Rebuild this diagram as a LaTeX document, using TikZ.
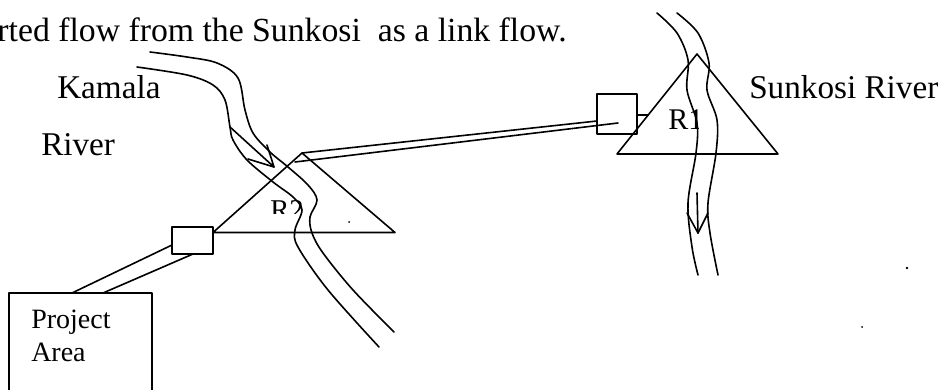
\documentclass[tikz,border=0pt]{standalone}
\usepackage{fontspec}
\setmainfont{Liberation Serif}
\tikzset{
  ink/.style={draw=black,line width=1.2pt,line join=round,line cap=round},
  bank/.style={ink,smooth,tension=0.55},
  boxnode/.style={ink,fill=white,inner sep=0pt,rectangle},
  big/.style={inner sep=0pt,font=\fontsize{24.9}{28}\selectfont,text=black},
  small/.style={inner sep=0pt,font=\fontsize{21}{24}\selectfont,text=black},
}
\begin{document}
\begin{tikzpicture}[x=0.75pt,y=-0.75pt]
\useasboundingbox (0,0) rectangle (942,389);
\clip (0,0) rectangle (942,389);
\fill[white] (0,0) rectangle (942,389);
% named points
\coordinate (t2a) at (302,153);
\coordinate (t2l) at (213,232.5);
\coordinate (t2r) at (395,232.5);
\coordinate (t1a) at (697,54);
\coordinate (t1l) at (617,154);
\coordinate (t1r) at (778,154);
\coordinate (l1s) at (302,153);
\coordinate (l1e) at (597,121);
\coordinate (l2s) at (295,162);
\coordinate (l2e) at (618,123);
\coordinate (p1s) at (172,245);
\coordinate (p1e) at (72,293);
\coordinate (p2s) at (193,254);
\coordinate (p2e) at (103,293);
% texts
\node[big,font=\fontsize{25.3}{28}\selectfont,anchor=base east] (title) at (567,41) {rted flow from the Sunkosi\ \ as a link flow.};
\node[big,anchor=base west] (kamala) at (57,98) {Kamala};
\node[big,anchor=base west] (river) at (41,155) {River};
\node[big,anchor=base west] (sunkosi) at (749,98) {Sunkosi River};
% boxes
\node[boxnode,minimum width=30.75pt,minimum height=20.25pt] (b2) at (192.5,240.5) {};
\node[boxnode,minimum width=30pt,minimum height=30pt] (b1) at (617,114) {};
\node[boxnode,minimum width=107.25pt,minimum height=80.25pt] (proj) at (80.5,346.5) {};
\node[small,anchor=base west] (project) at (31,328) {Project};
\node[small,anchor=base west] (area) at (31,361) {Area};
% labels clipped by the river lines
\begin{scope}
\clip (260,190) rectangle (312,213.5);
\node[small,font=\fontsize{21.5}{24}\selectfont,anchor=base west] (r2) at (270,219) {R2};
\end{scope}
\begin{scope}
\clip (660,100) rectangle (698,140);
\node[small,font=\fontsize{22.5}{24}\selectfont,anchor=base west] (r1) at (668,129) {R1};
\end{scope}
% triangles
\draw[ink] (t2a) -- (t2l) -- (t2r) -- cycle;
\draw[ink] (t1a) -- (t1l) -- (t1r) -- cycle;
% link canal and connectors
\draw[ink] (l1s) -- (l1e);
\draw[ink] (l2s) -- (l2e);
\draw[ink] (p1s) -- (p1e);
\draw[ink] (p2s) -- (p2e);
\coordinate (s1) at (b1.east |- 0,115);
\coordinate (s2) at (648,115);
\draw[ink] (s1) -- (s2);
% Kamala river
\draw[bank] plot coordinates {(150,52) (187,57) (217,63) (238,78) (245,110) (253,133) (270,152) (288,167) (308,185) (317,200) (310,217) (312,233) (323,253) (353,290) (394,332)};
\draw[bank] plot coordinates {(137,67) (187,75) (213,85) (225,100) (230,127) (233,140) (247,160) (273,182) (293,197) (302,210) (295,230) (298,247) (328,290) (379,347)};
\draw[ink] (230,127) -- (274,167) -- (267,145);
\draw[ink] (248,159) -- (274,167);
% Sunkosi river
\draw[bank] plot coordinates {(657,13) (677,33) (688,60) (687,90) (697,123) (696,153) (688,203) (692,247) (698,275)};
\draw[bank] plot coordinates {(677,13) (698,33) (709,63) (707,90) (717,120) (716,153) (708,203) (710,233) (718,275)};
\draw[ink] (697,193) -- (698,233);
\draw[ink] (687,213) -- (698,233) -- (708,213);
% specks
\fill (907,268) circle (1.4);
\fill (862,327) circle (1);
\fill (349,222) circle (1);
\end{tikzpicture}
\end{document}
